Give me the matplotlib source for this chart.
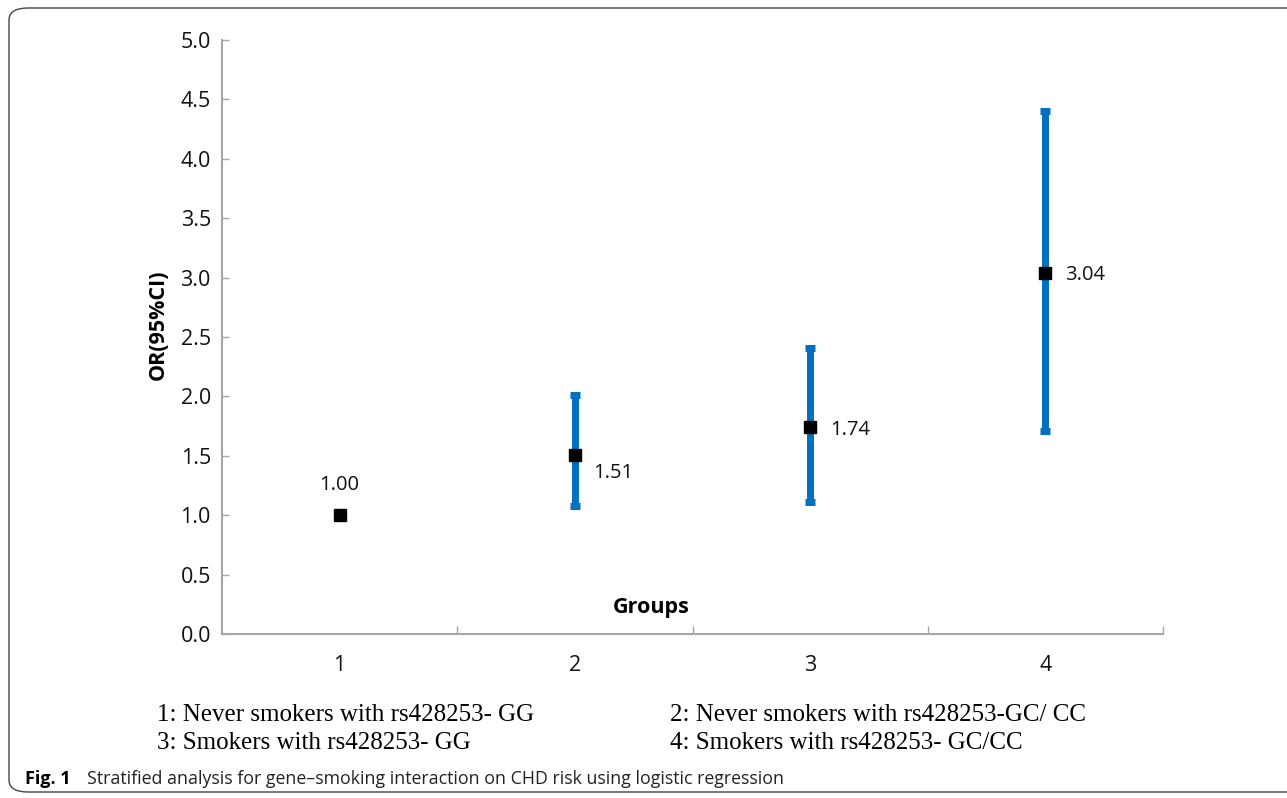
import matplotlib.pyplot as plt
from matplotlib.patches import FancyBboxPatch
import numpy as np

# datos do grafico
grupos = [1, 2, 3, 4]
or_valores = [1.00, 1.51, 1.74, 3.04]
ic_inferior = [1.00, 1.08, 1.11, 1.71]
ic_superior = [1.00, 2.01, 2.41, 4.40]
rotulos = ['1.00', '1.51', '1.74', '3.04']
legenda = ['1: Never smokers with rs428253- GG',
           '2: Never smokers with rs428253-GC/ CC',
           '3: Smokers with rs428253- GG',
           '4: Smokers with rs428253- GC/CC']

cinza = '#A6A6A6'
azul = '#0070C0'
W, H = 1287, 798

fig = plt.figure(figsize=(W / 100, H / 100), dpi=100)

# moldura arredondada
moldura = FancyBboxPatch((9 / W, 6 / H), 1300 / W, 784 / H,
                         boxstyle='round,pad=0,rounding_size=0.015',
                         transform=fig.transFigure, fill=False,
                         edgecolor='#444444', linewidth=1.0)
fig.patches.append(moldura)

ax = fig.add_axes([222 / W, 164 / H, 941 / W, 594 / H])

x = np.array(grupos)
y = np.array(or_valores)
erro_baixo = y - np.array(ic_inferior)
erro_cima = np.array(ic_superior) - y

# barras do intervalo (grupo 1 sem barra)
ax.errorbar(x[1:], y[1:], yerr=[erro_baixo[1:], erro_cima[1:]], fmt='none',
            ecolor=azul, elinewidth=5, capsize=3.9, capthick=5, zorder=2)
ax.plot(x, y, 's', color='black', markersize=9, zorder=3)

fonte = 'Open Sans'
tam = 15.5
desloc = [(0, 30), (18, -18), (20, -3), (20, -2)]
for i in range(4):
    ax.annotate(rotulos[i], (x[i], y[i]), xytext=desloc[i], textcoords='offset pixels',
                ha='center' if i == 0 else 'left', va='center', fontsize=14.5,
                family=fonte, color='#111111')

ax.set_xlim(0.5, 4.5)
ax.set_ylim(0, 5)
yt = np.arange(0, 5.01, 0.5)
ax.set_yticks(yt)
ax.set_yticklabels([f'{v:.1f}' for v in yt])
ax.set_xticks(grupos)
ax.set_xticklabels([str(g) for g in grupos])
ax.set_xticks([1.5, 2.5, 3.5, 4.5], minor=True)

for lado in ['top', 'right']:
    ax.spines[lado].set_visible(False)
for lado in ['left', 'bottom']:
    ax.spines[lado].set_color(cinza)
    ax.spines[lado].set_linewidth(1.5)

ax.tick_params(axis='y', direction='in', length=5, color=cinza, width=1,
               labelsize=tam, pad=8, labelcolor='#111111')
ax.tick_params(axis='x', which='major', length=0, labelsize=tam, pad=15,
               labelcolor='#111111')
ax.tick_params(axis='x', which='minor', direction='in', length=6, color=cinza, width=1)
for lbl in ax.get_xticklabels() + ax.get_yticklabels():
    lbl.set_family(fonte)

ax.set_ylabel('OR(95%CI)', fontsize=tam, fontweight='bold', family=fonte)
ax.yaxis.set_label_coords(-0.057, 0.52)
ax.text(0.456, 0.044, 'Groups', transform=ax.transAxes, ha='center', va='center',
        fontsize=tam, fontweight='bold', family=fonte)

# legenda dos grupos
serif = 'Liberation Serif'
pos_x = [157, 670, 157, 670]
pos_y = [721, 721, 749, 749]
for texto, px, py in zip(legenda, pos_x, pos_y):
    fig.text(px / W, 1 - py / H, texto, fontsize=18, family=serif, va='baseline')

# legenda da figura
fig.text(25 / W, 1 - 784 / H, 'Fig. 1', fontsize=13, fontweight='bold',
         family=fonte, va='baseline')
fig.text(87 / W, 1 - 784 / H,
         'Stratified analysis for gene\u2013smoking interaction on CHD risk using logistic regression',
         fontsize=12.8, family=fonte, va='baseline', color='#222222')

fig.savefig('out.png', dpi=100)
